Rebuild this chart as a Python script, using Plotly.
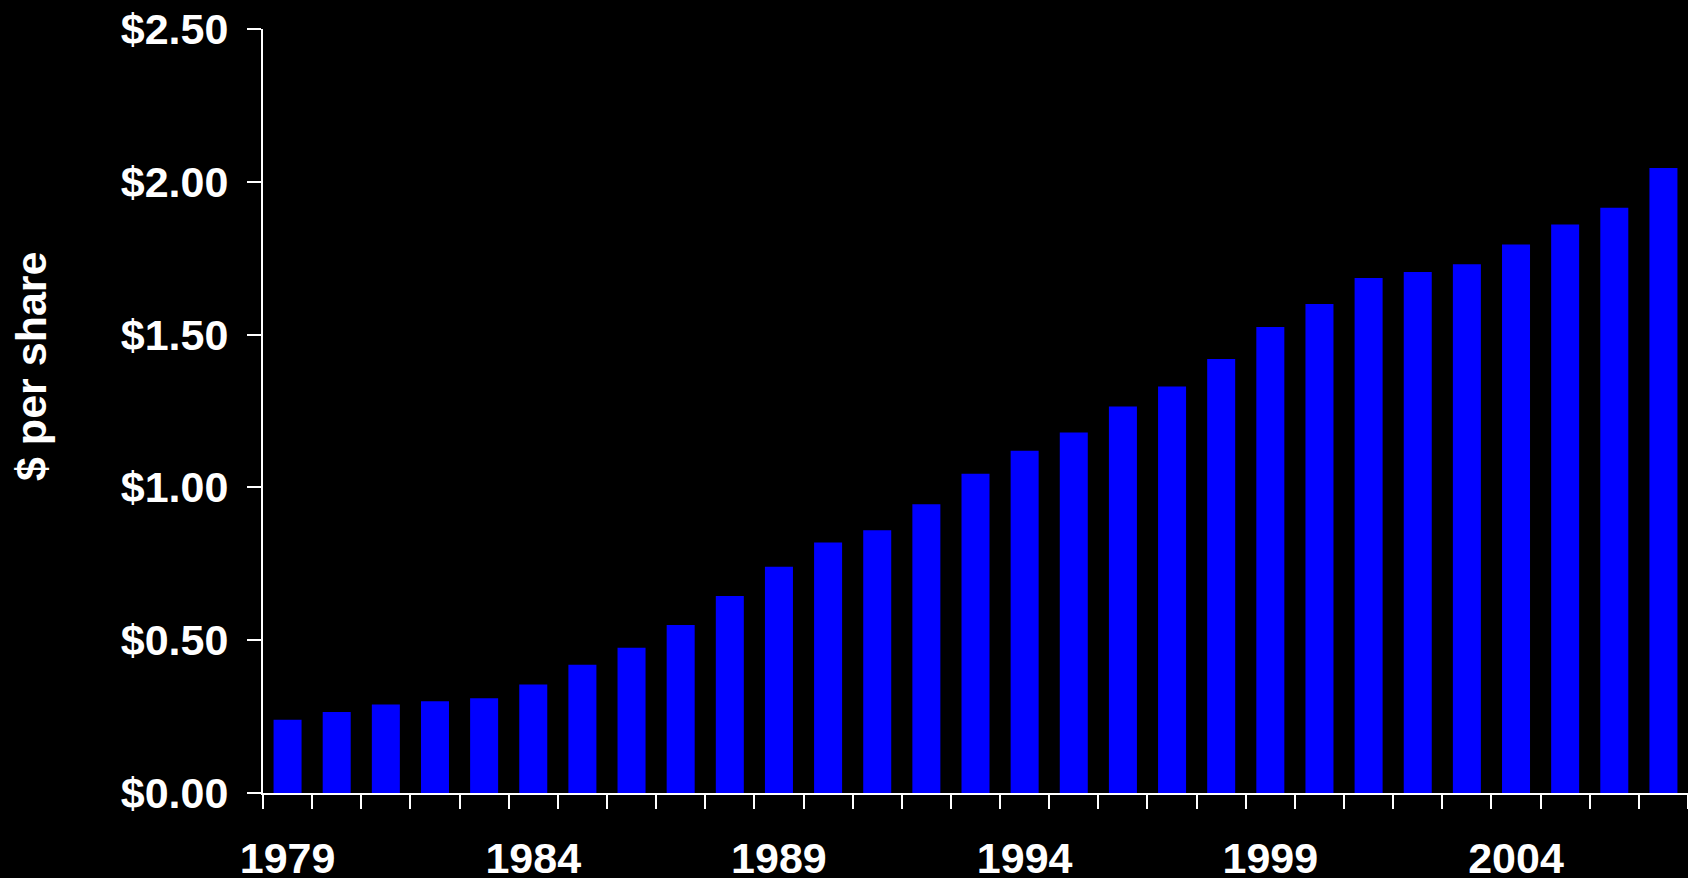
import plotly.graph_objects as go

years = list(range(1979, 2008))
dividends = [0.24, 0.265, 0.29, 0.30, 0.31, 0.355, 0.42, 0.475, 0.55, 0.645,
             0.74, 0.82, 0.86, 0.945, 1.045, 1.12, 1.18, 1.265, 1.33, 1.42,
             1.525, 1.60, 1.685, 1.705, 1.73, 1.795, 1.86, 1.915, 2.045]
y_ticks = [0, 0.5, 1.0, 1.5, 2.0, 2.5]
y_title = "$ per share"

cats = [str(y) for y in years]
tick_text = [c if (y - 1979) % 5 == 0 else "" for y, c in zip(years, cats)]

FONT = "Liberation Sans, Arial, sans-serif"
FS = 43

fig = go.Figure()
fig.add_trace(go.Bar(x=cats, y=dividends, marker=dict(color="#0000FF", line=dict(width=0)),
                     showlegend=False))

fig.update_layout(
    width=1688, height=878,
    paper_bgcolor="black", plot_bgcolor="black",
    margin=dict(l=263, r=0, t=29, b=85),
    bargap=0.43,
    font=dict(family=FONT, color="white", size=FS),
)

fig.update_xaxes(
    type="category", automargin=False,
    tickmode="array", tickvals=cats, ticktext=tick_text,
    tickson="boundaries", tickangle=0,
    ticks="outside", ticklen=14, tickwidth=2, tickcolor="white",
    showline=True, linecolor="white", linewidth=2,
    showgrid=False, zeroline=False,
    tickfont=dict(family=FONT, size=FS, color="white", weight="bold"),
    ticklabelstandoff=26,
)

fig.update_yaxes(
    range=[0, 2.5], automargin=False,
    tickmode="array", tickvals=y_ticks,
    ticktext=[f"${v:.2f}" for v in y_ticks],
    ticks="outside", ticklen=14, tickwidth=2, tickcolor="white",
    showline=True, linecolor="white", linewidth=2,
    showgrid=False, zeroline=False,
    tickfont=dict(family=FONT, size=FS, color="white", weight="bold"),
    ticklabelstandoff=10,
)

fig.add_annotation(
    text=y_title, textangle=-90,
    xref="paper", yref="paper",
    x=(31 - 263) / 1425, y=(793 - 367) / 764,
    xanchor="center", yanchor="middle", showarrow=False,
    font=dict(family=FONT, size=FS, color="white", weight="bold"),
)

fig.write_html(
    "out.html",
    config={"displayModeBar": False},
    post_script="document.body.style.margin='0';document.body.style.background='black';",
)
